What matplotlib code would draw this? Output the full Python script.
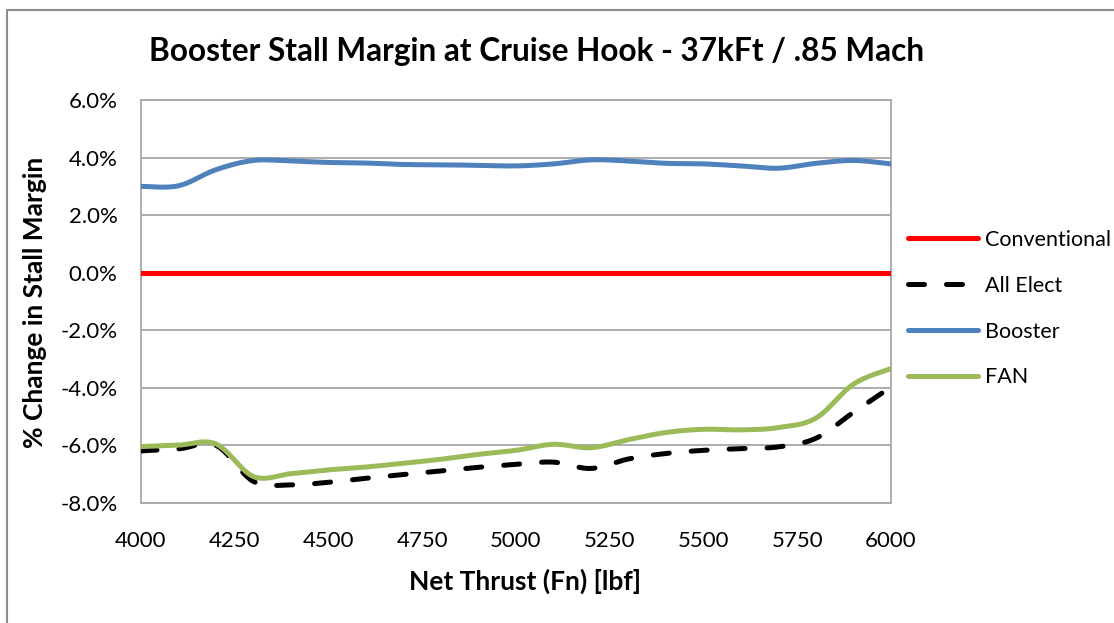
import numpy as np
import matplotlib
matplotlib.use("Agg")
import matplotlib.pyplot as plt
from matplotlib.lines import Line2D

plt.rcParams['font.family'] = ['Lato', 'DejaVu Sans']

# Net thrust (lbf)
thrust = [4000, 4100, 4200, 4300, 4400, 4500, 4600, 4700, 4800, 4900, 5000,
          5100, 5200, 5300, 5400, 5500, 5600, 5700, 5800, 5900, 6000]

# % change in stall margin
conventional = [0.0] * 21
all_elect = [-6.19, -6.12, -6.00, -7.25, -7.37, -7.28, -7.14, -7.01, -6.89, -6.76, -6.66,
             -6.58, -6.80, -6.47, -6.28, -6.17, -6.11, -6.05, -5.75, -4.85, -3.97]
booster = [3.00, 3.02, 3.58, 3.90, 3.88, 3.83, 3.81, 3.76, 3.75, 3.73, 3.71,
           3.78, 3.92, 3.88, 3.80, 3.78, 3.71, 3.63, 3.80, 3.90, 3.78]
fan = [-6.04, -5.99, -5.95, -7.08, -6.98, -6.85, -6.75, -6.62, -6.48, -6.31, -6.17,
       -5.96, -6.08, -5.80, -5.55, -5.44, -5.46, -5.38, -5.05, -3.87, -3.33]

y_ticks = [6, 4, 2, 0, -2, -4, -6, -8]
x_ticks = [4000, 4250, 4500, 4750, 5000, 5250, 5500, 5750, 6000]


def smooth(x, y, n=24):
    """Catmull-Rom spline through the points, like a smoothed spreadsheet line."""
    p = np.column_stack([x, y]).astype(float)
    p = np.vstack([p[0], p, p[-1]])
    out = []
    t = np.linspace(0, 1, n, endpoint=False)[:, None]
    for i in range(1, len(p) - 2):
        p0, p1, p2, p3 = p[i - 1], p[i], p[i + 1], p[i + 2]
        seg = 0.5 * (2 * p1 + (-p0 + p2) * t
                     + (2 * p0 - 5 * p1 + 4 * p2 - p3) * t ** 2
                     + (-p0 + 3 * p1 - 3 * p2 + p3) * t ** 3)
        out.append(seg)
    out.append(p[-2][None, :])
    s = np.vstack(out)
    return s[:, 0], s[:, 1]


W, H = 1114, 623
fig = plt.figure(figsize=(W / 100, H / 100), dpi=100)
ax = fig.add_axes([141 / W, 1 - 503 / H, (891 - 141) / W, (503 - 100) / H])

lw = 3.6
dash = (3.2, 4.4)
grid_c = '#a6a6a6'
ax.plot(*smooth(thrust, conventional), color='#ff0000', lw=lw, solid_capstyle='round', zorder=3)
ax.plot(*smooth(thrust, all_elect), color='black', lw=lw, dashes=dash,
        dash_capstyle='round', zorder=3)
ax.plot(*smooth(thrust, booster), color='#4f81bd', lw=lw, solid_capstyle='round', zorder=3)
ax.plot(*smooth(thrust, fan), color='#9bbb59', lw=lw, solid_capstyle='round', zorder=4)

ax.set_xlim(4000, 6000)
ax.set_ylim(-8, 6)
ax.set_xticks(x_ticks)
ax.set_yticks(y_ticks)
ax.set_yticklabels([f"{v:.1f}%" for v in y_ticks])
ax.tick_params(axis='both', length=0, labelsize=16, colors='black')
ax.tick_params(axis='x', pad=20)
ax.tick_params(axis='y', pad=17)
ax.grid(axis='y', color=grid_c, lw=1.3)
ax.set_axisbelow(True)
for sp in ax.spines.values():
    sp.set_color(grid_c)
    sp.set_linewidth(1.3)

ax.set_xlabel("Net Thrust (Fn) [lbf]", fontsize=19, fontweight='bold', va='center')
ax.xaxis.set_label_coords((525 - 141) / 750, (503 - 581) / 403)
ax.set_ylabel("% Change in Stall Margin", fontsize=19, fontweight='bold',
              va='center', ha='center')
ax.yaxis.set_label_coords((35 - 141) / 750, (503 - 302) / 403)
fig.text(537 / W, 1 - 52 / H, "Booster Stall Margin at Cruise Hook - 37kFt / .85 Mach",
         ha='center', va='center', fontsize=22.8, fontweight='bold')

handles = [
    Line2D([], [], color='#ff0000', lw=lw, solid_capstyle='round'),
    Line2D([], [], color='black', lw=lw, dashes=dash, dash_capstyle='round'),
    Line2D([], [], color='#4f81bd', lw=lw, solid_capstyle='round'),
    Line2D([], [], color='#9bbb59', lw=lw, solid_capstyle='round'),
]
labels = ["Conventional", "All Elect", "Booster", "FAN"]
fig.legend(handles, labels, loc='upper left', bbox_to_anchor=(908 / W, 1 - 230 / H),
           frameon=False, fontsize=15.5, handlelength=3.25, handletextpad=0.33,
           labelspacing=1.2, borderaxespad=0, borderpad=0)

# chart area border (top and left edges)
fig.add_artist(Line2D([7 / W, 7 / W, 1.0], [0.0, 1 - 10 / H, 1 - 10 / H],
                      transform=fig.transFigure, color='#8c8c8c', lw=1.5))

fig.savefig("out.png", dpi=100)
